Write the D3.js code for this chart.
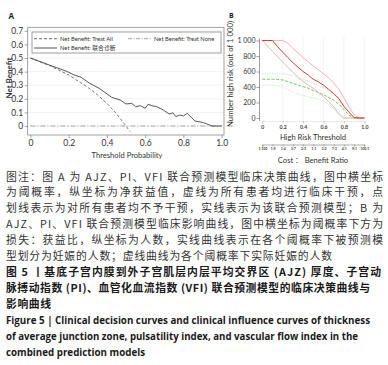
<!DOCTYPE html>
<html>
<head>
<meta charset="utf-8">
<script src="https://cdn.jsdelivr.net/npm/d3@7"></script>
<style>
  body { margin: 0; background: #fff; }
  svg { display: block; }
</style>
</head>
<body>
<svg id="fig" width="388" height="365"></svg>
<script>
// ---- panel A : decision curve ----
const treatAllPt = [0, 0.1, 0.2, 0.3, 0.35, 0.4, 0.45, 0.5, 0.52];
const treatAllNb = [0.5, 0.445, 0.375, 0.285, 0.23, 0.167, 0.09, 0.0, -0.04];
const treatNonePt = [0, 1];
const treatNoneNb = [0, 0];
const modelPt = [0, 0.1, 0.19, 0.23, 0.265, 0.31, 0.36, 0.425, 0.47, 0.5, 0.53, 0.55, 0.575, 0.6,
  0.615, 0.635, 0.66, 0.695, 0.725, 0.745, 0.76, 0.78, 0.8, 0.82, 0.86, 0.905, 0.95, 1.0];
const modelNb = [0.5, 0.448, 0.402, 0.375, 0.358, 0.314, 0.277, 0.211, 0.191, 0.162, 0.167, 0.142, 0.15, 0.13,
  0.16, 0.15, 0.142, 0.118, 0.088, 0.097, 0.069, 0.081, 0.074, 0.093, 0.037, 0.025, 0, 0];
const ticksNbA = [0, 0.1, 0.2, 0.3, 0.4, 0.5, 0.6, 0.7];
const ticksPtA = [0, 0.2, 0.4, 0.6, 0.8, 1.0];

// ---- panel B : clinical impact curve ----
const thresholdsB = [0, 0.05, 0.1, 0.15, 0.2, 0.25, 0.3, 0.35, 0.4, 0.45, 0.5,
  0.55, 0.6, 0.65, 0.7, 0.75, 0.8, 0.85, 0.9, 0.95, 1.0];
const highRisk = [1000, 1000, 1000, 920, 850, 780, 715, 655, 600, 555, 500, 465, 425, 370, 315, 250, 150, 75, 5, 0, 0];
const highRiskHi = [1000, 1000, 1000, 1000, 1000, 965, 900, 840, 780, 725, 670, 620, 570, 515, 455, 370, 260, 140, 40, 0, 0];
const highRiskLo = [1000, 930, 860, 790, 720, 650, 590, 525, 470, 425, 383, 330, 275, 210, 146, 55, 0, 0, 0, 0, 0];
const withEvent = [500, 500, 500, 498, 490, 470, 448, 425, 405, 385, 355, 330, 300, 265, 230, 180, 110, 35, 0, 0, 0];
const withEventHi = [570, 570, 570, 570, 568, 562, 545, 525, 500, 475, 450, 422, 393, 355, 310, 250, 165, 75, 0, 0, 0];
const withEventLo = [425, 425, 423, 418, 400, 365, 335, 310, 290, 275, 258, 242, 222, 180, 125, 35, 0, 0, 0, 0, 0];
const ticksCountB = [0, 200, 400, 600, 800, 1000];
const ticksThrB = [0, 0.2, 0.4, 0.6, 0.8, 1.0];
const costTicks = [0, 0.1, 0.2, 0.3, 0.4, 0.5, 0.6, 0.7, 0.8, 0.9, 1.0];
const costLabels = ["1:100", "1:9", "1:4", "3:7", "2:3", "1:1", "3:2", "7:3", "4:1", "9:1", "100:1"];

// ---- caption ----
const captionLines = [
  { t: "图注：图 A 为 AJZ、PI、VFI 联合预测模型临床决策曲线，图中横坐标", w: 377, b: false },
  { t: "为阈概率，纵坐标为净获益值，虚线为所有患者均进行临床干预，点", w: 377, b: false },
  { t: "划线表示为对所有患者均不予干预，实线表示为该联合预测模型；B 为", w: 377, b: false },
  { t: "AJZ、PI、VFI 联合预测模型临床影响曲线，图中横坐标为阈概率下方为", w: 377, b: false },
  { t: "损失：获益比，纵坐标为人数，实线曲线表示在各个阈概率下被预测模", w: 377, b: false },
  { t: "型划分为妊娠的人数；虚线曲线为各个阈概率下实际妊娠的人数", w: 326, b: false },
  { t: "图 5 丨基底子宫内膜到外子宫肌层内层平均交界区 (AJZ) 厚度、子宫动", w: 375, b: true },
  { t: "脉搏动指数 (PI)、血管化血流指数 (VFI) 联合预测模型的临床决策曲线与", w: 364, b: true },
  { t: "影响曲线", w: 45, b: true },
  { t: "Figure 5  |  Clinical decision curves and clinical influence curves of thickness", w: 364, b: true, en: true },
  { t: "of average junction zone, pulsatility index, and vascular flow index in the", w: 352, b: true, en: true },
  { t: "combined prediction models", w: 139, b: true, en: true }
];

const svg = d3.select("#fig");
const font = "Lato, 'Open Sans', sans-serif";

// ================= panel A =================
const xA = d3.scaleLinear().domain([-0.014, 1.012]).range([27.7, 224]);
const yA = d3.scaleLinear().domain([-0.066, 0.726]).range([135, 27.3]);
const gA = svg.append("g");

gA.selectAll("line.grid")
  .data(ticksNbA)
  .join("line")
  .attr("class", "grid")
  .attr("x1", xA.range()[0]).attr("x2", xA.range()[1])
  .attr("y1", d => yA(d)).attr("y2", d => yA(d))
  .attr("stroke", "#ececec").attr("stroke-width", 0.7);

gA.append("rect")
  .attr("x", xA.range()[0]).attr("y", yA.range()[1])
  .attr("width", xA.range()[1] - xA.range()[0])
  .attr("height", yA.range()[0] - yA.range()[1])
  .attr("fill", "none").attr("stroke", "#8a8a8a").attr("stroke-width", 0.8);

const axA_y = gA.append("g")
  .attr("transform", `translate(${xA.range()[0]},0)`)
  .call(d3.axisLeft(yA).tickValues(ticksNbA).tickSize(3).tickPadding(1.5)
    .tickFormat(d => d === 0 ? "0" : d3.format(".1f")(d)));
const axA_x = gA.append("g")
  .attr("transform", `translate(0,${yA.range()[0]})`)
  .call(d3.axisBottom(xA).tickValues(ticksPtA).tickSize(3).tickPadding(2)
    .tickFormat(d => d === 0 ? "0" : d3.format(".1f")(d)));
[axA_y, axA_x].forEach(a => {
  a.select(".domain").remove();
  a.selectAll("line").attr("stroke", "#8a8a8a").attr("stroke-width", 0.8);
  a.selectAll("text").attr("font-family", font).attr("font-size", 8.5).attr("fill", "#333");
});

const lineA = (xs, ys) => d3.line().x((d, i) => xA(xs[i])).y(d => yA(d))(ys);

gA.append("path").attr("d", lineA(treatNonePt, treatNoneNb))
  .attr("fill", "none").attr("stroke", "#9a9a9a").attr("stroke-width", 0.9)
  .attr("stroke-dasharray", "5,2,1,2");
gA.append("path").attr("d", lineA(treatAllPt, treatAllNb))
  .attr("fill", "none").attr("stroke", "#555").attr("stroke-width", 0.8)
  .attr("stroke-dasharray", "3,2");
gA.append("path").attr("d", lineA(modelPt, modelNb))
  .attr("fill", "none").attr("stroke", "#444").attr("stroke-width", 0.9);

// legend
const leg = gA.append("g");
leg.append("rect").attr("x", 32).attr("y", 32).attr("width", 189).attr("height", 21)
  .attr("fill", "#fff").attr("stroke", "#777").attr("stroke-width", 0.7);
const legItems = [
  { x: 34, y: 38.7, label: "Net Benefit: Treat All", stroke: "#444", w: 0.8, dash: "3,2" },
  { x: 128, y: 38.7, label: "Net Benefit: Treat None", stroke: "#888", w: 0.8, dash: "4,1.5,1,1.5" },
  { x: 34, y: 48, label: "Net Benefit: 联合诊断", stroke: "#aaa", w: 2, dash: null }
];
legItems.forEach(it => {
  leg.append("line").attr("x1", it.x).attr("x2", it.x + 23).attr("y1", it.y).attr("y2", it.y)
    .attr("stroke", it.stroke).attr("stroke-width", it.w).attr("stroke-dasharray", it.dash);
  leg.append("text").attr("x", it.x + 26).attr("y", it.y + 2)
    .attr("font-family", font + ", 'Noto Sans CJK SC'").attr("font-size", 5.8).attr("fill", "#333")
    .text(it.label);
});

gA.append("text").attr("transform", "translate(12,78) rotate(-90)")
  .attr("text-anchor", "middle").attr("font-family", font).attr("font-size", 8)
  .attr("font-weight", 700).attr("fill", "#333").text("Net Benefit");
gA.append("text").attr("x", 127).attr("y", 158)
  .attr("text-anchor", "middle").attr("font-family", font).attr("font-size", 7.6)
  .attr("fill", "#333").text("Threshold Probability");
svg.append("text").attr("x", 8.5).attr("y", 18.5).attr("font-family", "'Open Sans', sans-serif")
  .attr("font-size", 8).attr("font-weight", 700).attr("fill", "#222").text("A");

// ================= panel B =================
const xB = d3.scaleLinear().domain([0, 1]).range([262.3, 364.3]);
const yB = d3.scaleLinear().domain([0, 1000]).range([118, 40.5]);
const gB = svg.append("g");

gB.selectAll("line.vgrid")
  .data(ticksThrB.slice(1))
  .join("line")
  .attr("class", "vgrid")
  .attr("x1", d => xB(d)).attr("x2", d => xB(d))
  .attr("y1", 36).attr("y2", 121)
  .attr("stroke", "#efefef").attr("stroke-width", 0.7);

const axB_y = gB.append("g").attr("transform", "translate(259.5,0)")
  .call(d3.axisLeft(yB).tickValues(ticksCountB).tickSize(3).tickPadding(1)
    .tickFormat(d => d === 1000 ? "1 000" : String(d)));
axB_y.select(".domain").attr("stroke", "#8a8a8a").attr("stroke-width", 0.8)
  .attr("d", "M0,38.5V121");
axB_y.selectAll("line").attr("stroke", "#8a8a8a").attr("stroke-width", 0.8);
axB_y.selectAll("text").attr("font-family", font).attr("font-size", 7).attr("fill", "#333");

const axB_x = gB.append("g").attr("transform", "translate(0,121)")
  .call(d3.axisBottom(xB).tickValues(ticksThrB).tickSize(2.5).tickPadding(1.5)
    .tickFormat(d => d === 0 ? "0" : d3.format(".1f")(d)));
axB_x.select(".domain").attr("stroke", "#dcdcdc").attr("stroke-width", 0.6);
axB_x.selectAll("line").attr("stroke", "#aaa").attr("stroke-width", 0.6);
axB_x.selectAll("text").attr("font-family", font).attr("font-size", 5.2)
  .attr("font-weight", 700).attr("fill", "#444");

const lineB = ys => d3.line().x((d, i) => xB(thresholdsB[i])).y(d => yB(d))(ys);
const seriesB = [
  { v: withEventLo, stroke: "#b4e8ae", w: 0.9, dash: "1.2,1.2" },
  { v: withEventHi, stroke: "#b4e8ae", w: 0.9, dash: "1.2,1.2" },
  { v: withEvent, stroke: "#5ccf5a", w: 1, dash: "3,1.6" },
  { v: highRiskLo, stroke: "#f3a7a7", w: 0.9, dash: null },
  { v: highRiskHi, stroke: "#f3a7a7", w: 0.9, dash: null },
  { v: highRisk, stroke: "#d83636", w: 1, dash: null }
];
seriesB.forEach(s => {
  gB.append("path").attr("d", lineB(s.v)).attr("fill", "none")
    .attr("stroke", s.stroke).attr("stroke-width", s.w).attr("stroke-dasharray", s.dash);
});

gB.append("text").attr("x", 313).attr("y", 139.5).attr("text-anchor", "middle")
  .attr("font-family", font).attr("font-size", 7.6).attr("fill", "#333").text("High Risk Threshold");

// cost : benefit axis
const axCost = gB.append("g").attr("transform", "translate(0,144.5)")
  .call(d3.axisBottom(xB).tickValues(costTicks).tickSize(2).tickPadding(1)
    .tickFormat((d, i) => costLabels[i]));
axCost.select(".domain").attr("stroke", "#777").attr("stroke-width", 0.6);
axCost.selectAll("line").attr("stroke", "#777").attr("stroke-width", 0.6);
axCost.selectAll("text").attr("font-family", font).attr("font-size", 3.6)
  .attr("font-weight", 700).attr("fill", "#444");

gB.append("text").attr("x", 313).attr("y", 163).attr("text-anchor", "middle")
  .attr("font-family", font + ", 'Noto Sans CJK SC'").attr("font-size", 7.6).attr("fill", "#333")
  .text("Cost ： Benefit Ratio");

gB.append("text").attr("transform", "translate(233,74) rotate(-90)")
  .attr("text-anchor", "middle").attr("font-family", font).attr("font-size", 7)
  .attr("textLength", 106).attr("lengthAdjust", "spacingAndGlyphs")
  .attr("fill", "#333").text("Number high risk (out of 1 000)");
svg.append("text").attr("x", 229).attr("y", 17.5).attr("font-family", "'Open Sans', sans-serif")
  .attr("font-size", 7).attr("font-weight", 700).attr("fill", "#222").text("B");

// ================= caption =================
const capY = d3.scaleLinear().domain([0, captionLines.length - 1]).range([180.5, 355.5]);
svg.append("g").selectAll("text")
  .data(captionLines)
  .join("text")
  .attr("x", 6)
  .attr("y", (d, i) => capY(i))
  .attr("font-family", d => d.en ? "'Open Sans', sans-serif" : "'Noto Sans CJK SC', sans-serif")
  .attr("font-size", d => d.en ? 10 : 10.8)
  .attr("font-weight", d => d.b ? 700 : 400)
  .attr("fill", d => d.b ? "#1a1a1a" : "#333")
  .attr("textLength", d => d.w)
  .attr("lengthAdjust", d => d.en ? "spacingAndGlyphs" : "spacing")
  .text(d => d.t);
</script>
</body>
</html>
